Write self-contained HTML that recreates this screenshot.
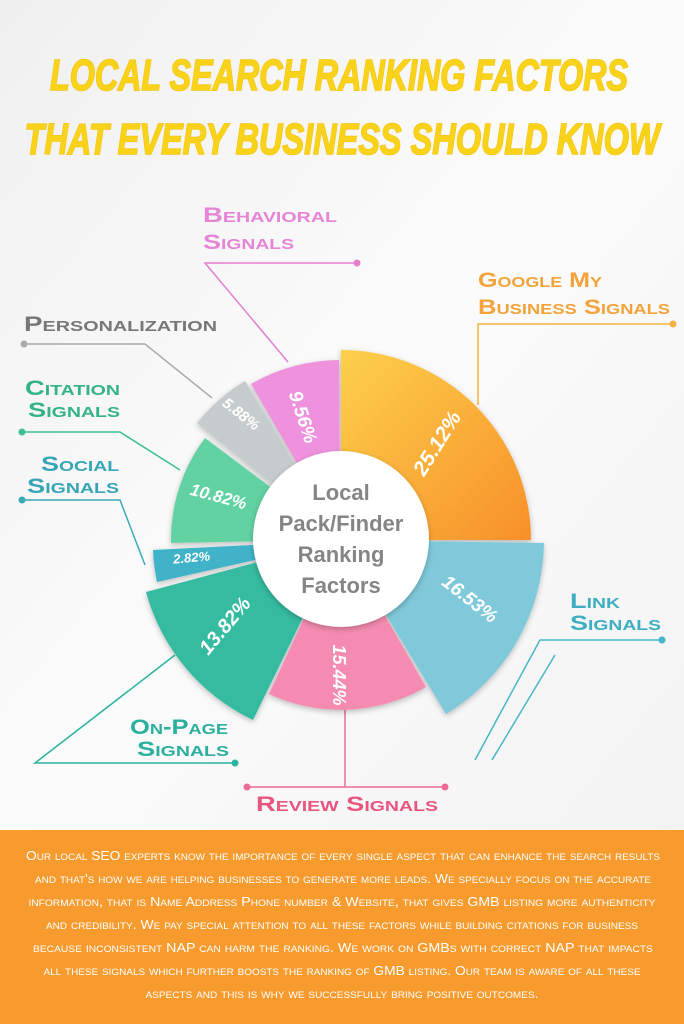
<!DOCTYPE html>
<html><head><meta charset="utf-8"><style>
html,body{margin:0;padding:0;width:684px;height:1024px;overflow:hidden;background:#fff}
svg{display:block}
.t{font-family:"Liberation Sans",sans-serif;font-weight:bold;font-style:italic;fill:#f8d319;stroke:#f5c515;stroke-width:1.6;paint-order:stroke}
.lb{font-family:"Liberation Sans",sans-serif;font-weight:bold;font-variant:small-caps;font-size:21px}
.pc{font-family:"Liberation Sans",sans-serif;font-weight:bold;font-style:italic;fill:#fff;text-anchor:middle}
.c{font-family:"Liberation Sans",sans-serif;font-weight:bold;fill:#858585;font-size:22px;text-anchor:middle}
.b{font-family:"Liberation Sans",sans-serif;font-variant:small-caps;fill:#fff;font-size:12.5px}
</style></head><body>
<svg width="684" height="1024" viewBox="0 0 684 1024" xmlns="http://www.w3.org/2000/svg">
<defs>
<linearGradient id="bg" x1="0" y1="0" x2="1" y2="1"><stop offset="0" stop-color="#f0f0f0"/><stop offset="0.5" stop-color="#fbfbfb"/><stop offset="1" stop-color="#f3f3f3"/></linearGradient>
<linearGradient id="og" x1="0" y1="0" x2="1" y2="1"><stop offset="0" stop-color="#fdd04a"/><stop offset="1" stop-color="#f7902a"/></linearGradient>
<filter id="sh" x="-20%" y="-20%" width="140%" height="140%"><feDropShadow dx="0" dy="2" stdDeviation="3" flood-color="#000" flood-opacity="0.25"/></filter>
</defs>
<rect width="684" height="830" fill="url(#bg)"/>
<text class="t" x="339" y="90" font-size="44" text-anchor="middle" textLength="578" lengthAdjust="spacingAndGlyphs">LOCAL SEARCH RANKING FACTORS</text>
<text class="t" x="342" y="154" font-size="44" text-anchor="middle" textLength="635" lengthAdjust="spacingAndGlyphs">THAT EVERY BUSINESS SHOULD KNOW</text>

<g fill="none" stroke-width="1.5">
<polyline points="357,263 205,263 288,362" stroke="#e47fd0"/>
<polyline points="673,324 478,324 478,405" stroke="#f3b241"/>
<polyline points="24,344 145,344 212,398" stroke="#aaa"/>
<polyline points="22,432 120,432 180,470" stroke="#3cbf8f"/>
<polyline points="22,500 120,500 145,565" stroke="#3aaab8"/>
<polyline points="235,763 35,763 175,655" stroke="#2ab3a0"/>
<polyline points="247,787 445,787" stroke="#ec6a96"/>
<line x1="345" y1="787" x2="345" y2="705" stroke="#ec6a96"/>
<polyline points="662,640 540,640 475,760" stroke="#47b5c8"/>
<polyline points="555,655 492,760" stroke="#47b5c8"/>
</g>
<g>
<circle cx="357" cy="263" r="3.5" fill="#e47fd0"/>
<circle cx="673" cy="324" r="3.5" fill="#f3b241"/>
<circle cx="24" cy="344" r="3.5" fill="#aaa"/>
<circle cx="22" cy="432" r="3.5" fill="#3cbf8f"/>
<circle cx="22" cy="500" r="3.5" fill="#3aaab8"/>
<circle cx="235" cy="763" r="3.5" fill="#2ab3a0"/>
<circle cx="247" cy="787" r="3.5" fill="#ec6a96"/>
<circle cx="445" cy="787" r="3.5" fill="#ec6a96"/>
<circle cx="662" cy="640" r="3.5" fill="#47b5c8"/>
</g>

<text class="lb" x="203" y="222" fill="#e684d6" textLength="134" lengthAdjust="spacingAndGlyphs">Behavioral</text>
<text class="lb" x="203" y="249" fill="#e684d6" textLength="91" lengthAdjust="spacingAndGlyphs">Signals</text>
<text class="lb" x="478" y="287" fill="#f2a33b" textLength="124" lengthAdjust="spacingAndGlyphs">Google My</text>
<text class="lb" x="478" y="314" fill="#f2a33b" textLength="192" lengthAdjust="spacingAndGlyphs">Business Signals</text>
<text class="lb" x="24" y="331" fill="#777" textLength="193" lengthAdjust="spacingAndGlyphs">Personalization</text>
<text class="lb" x="25" y="395" fill="#34b486" textLength="95" lengthAdjust="spacingAndGlyphs">Citation</text>
<text class="lb" x="28" y="417" fill="#34b486" textLength="92" lengthAdjust="spacingAndGlyphs">Signals</text>
<text class="lb" x="41" y="471" fill="#36a6b6" textLength="78" lengthAdjust="spacingAndGlyphs">Social</text>
<text class="lb" x="27" y="493" fill="#36a6b6" textLength="92" lengthAdjust="spacingAndGlyphs">Signals</text>
<text class="lb" x="130" y="734" fill="#2bb09e" textLength="98" lengthAdjust="spacingAndGlyphs">On-Page</text>
<text class="lb" x="137" y="756" fill="#2bb09e" textLength="92" lengthAdjust="spacingAndGlyphs">Signals</text>
<text class="lb" x="256" y="811" fill="#e8567f" textLength="182" lengthAdjust="spacingAndGlyphs">Review Signals</text>
<text class="lb" x="570" y="608" fill="#3eaec2" textLength="50" lengthAdjust="spacingAndGlyphs">Link</text>
<text class="lb" x="570" y="630" fill="#3eaec2" textLength="91" lengthAdjust="spacingAndGlyphs">Signals</text>

<g filter="url(#sh)">
<path d="M341,470 L341,350 A190,190 0 0 1 531,540 L411,540 A70,70 0 0 0 341,470Z" fill="url(#og)"/>
<path d="M411,541 L544,543 A203,203 0 0 1 446,714 L377,600 A70,70 0 0 0 411,541Z" fill="#7fc9da"/>
<path d="M376,600 L426,687 A170,170 0 0 1 269,694 L311,603 A70,70 0 0 0 376,600Z" fill="#f58bb0"/>
<path d="M310,603 L253,720 A200,200 0 0 1 146,592 L273,558 A70,70 0 0 0 310,603Z" fill="#35bba0"/>
<path d="M273,556 L157,582 A188,188 0 0 1 153,550 L271,544 A70,70 0 0 0 273,556Z" fill="#3fb3c9"/>
<path d="M271,541 L171,543 A170,170 0 0 1 205,438 L285,498 A70,70 0 0 0 271,541Z" fill="#62d2a2"/>
<path d="M287,496 L197,423 A186,186 0 0 1 245,381 L305,480 A70,70 0 0 0 287,496Z" fill="#c6cbcc"/>
<path d="M306,479 L251,384 A180,180 0 0 1 339,360 L340,470 A70,70 0 0 0 306,479Z" fill="#ee92dd"/>
</g>
<text class="pc" font-size="21" transform="translate(443,447) rotate(-58)">25.12%</text>
<text class="pc" font-size="19" transform="translate(466,604) rotate(38)">16.53%</text>
<text class="pc" font-size="18" transform="translate(333,675) rotate(90)">15.44%</text>
<text class="pc" font-size="20" transform="translate(230,630) rotate(-50)">13.82%</text>
<text class="pc" font-size="13" transform="translate(192,562) rotate(-5)">2.82%</text>
<text class="pc" font-size="17" transform="translate(217,502) rotate(15)">10.82%</text>
<text class="pc" font-size="15" transform="translate(238,418) rotate(38)">5.88%</text>
<text class="pc" font-size="19" transform="translate(297,419) rotate(72)">9.56%</text>

<circle cx="341" cy="539" r="88" fill="#fff" filter="url(#sh)"/>
<text class="c" x="341" y="500">Local</text>
<text class="c" x="341" y="531">Pack/Finder</text>
<text class="c" x="341" y="562">Ranking</text>
<text class="c" x="341" y="593">Factors</text>

<rect x="0" y="830" width="684" height="194" fill="#f79b2f"/>
<g class="b" text-anchor="middle">
<text x="343" y="860" textLength="634" lengthAdjust="spacingAndGlyphs">Our local SEO experts know the importance of every single aspect that can enhance the search results</text>
<text x="343" y="883" textLength="616" lengthAdjust="spacingAndGlyphs">and that's how we are helping businesses to generate more leads. We specially focus on the accurate</text>
<text x="342" y="906" textLength="627" lengthAdjust="spacingAndGlyphs">information, that is Name Address Phone number &amp; Website, that gives GMB listing more  authenticity</text>
<text x="342" y="929" textLength="592" lengthAdjust="spacingAndGlyphs">and credibility. We pay special attention to all these factors while building citations for business</text>
<text x="343" y="952" textLength="620" lengthAdjust="spacingAndGlyphs">because inconsistent NAP can harm the ranking. We work on GMBs with correct NAP that impacts</text>
<text x="342" y="975" textLength="597" lengthAdjust="spacingAndGlyphs">all these signals which further boosts the ranking of GMB listing. Our team is aware of all these</text>
<text x="342" y="998" textLength="393" lengthAdjust="spacingAndGlyphs">aspects and this is why we successfully bring positive outcomes.</text>
</g>
</svg>
</body></html>
